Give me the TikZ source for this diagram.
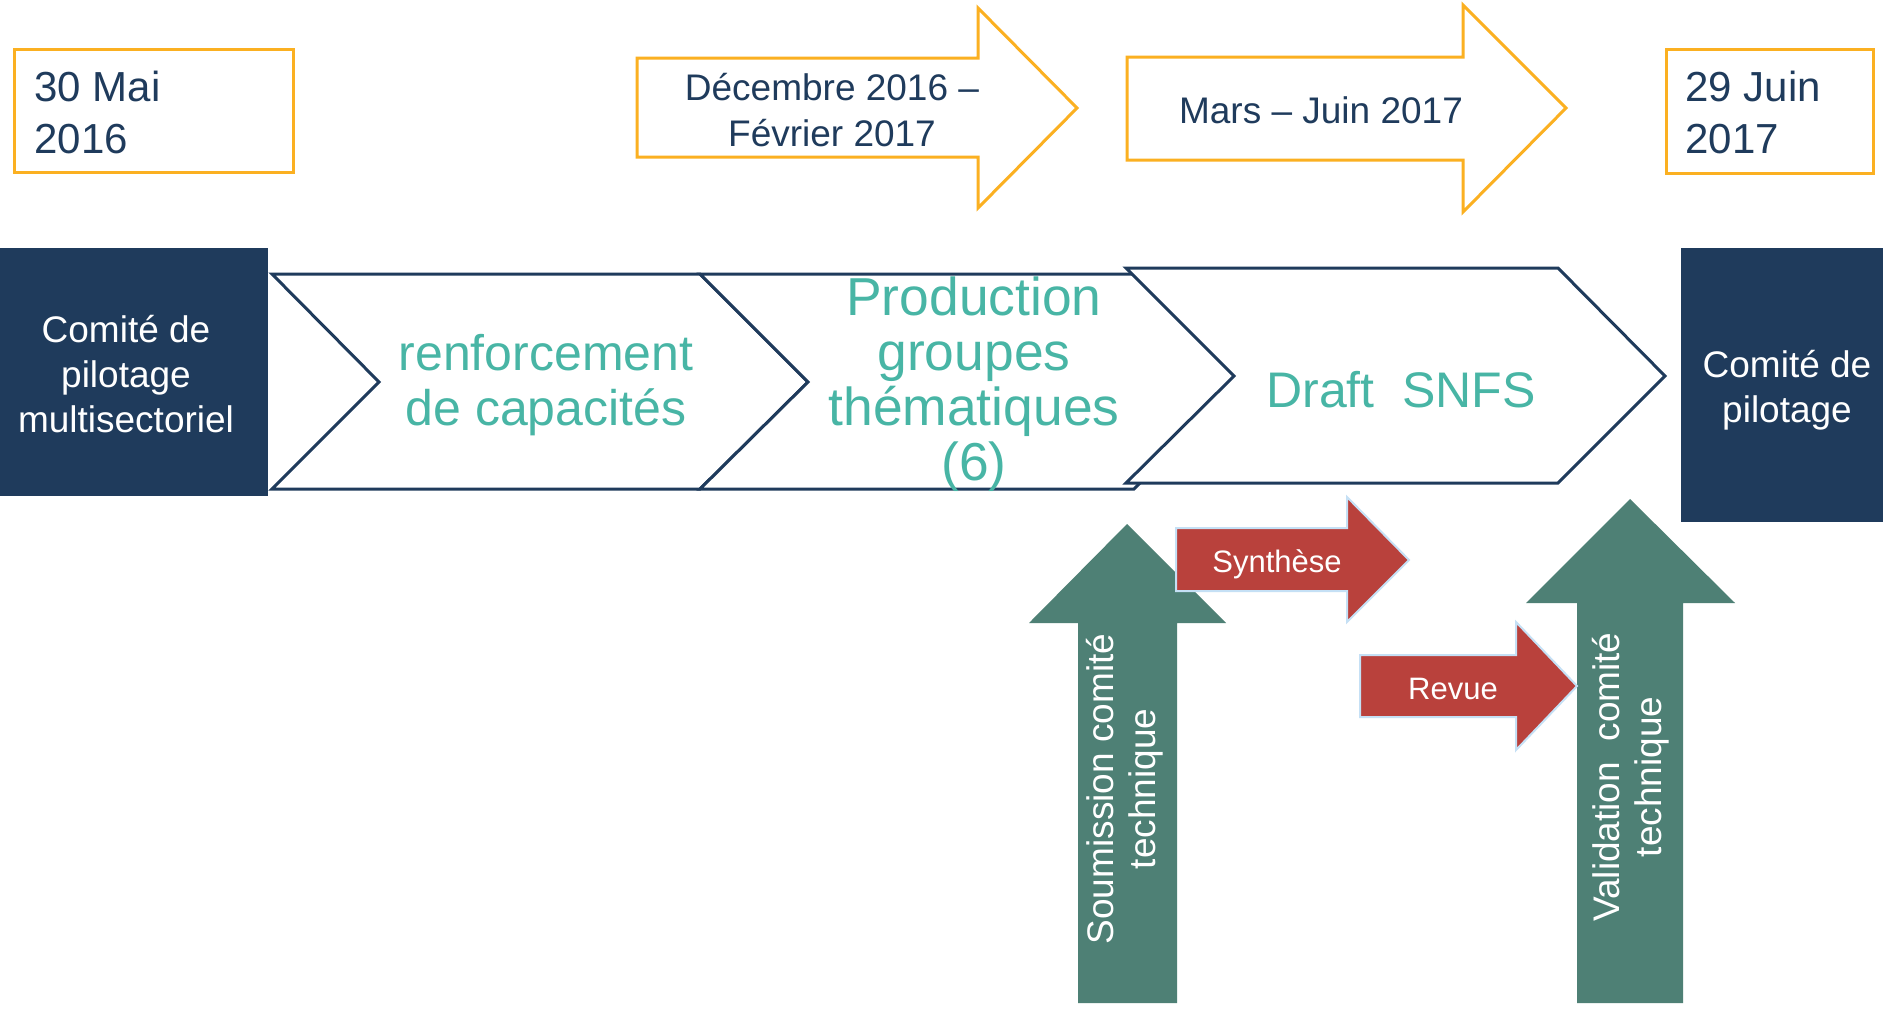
\documentclass[tikz,border=0pt]{standalone}
\usepackage{fontspec}
\setmainfont{Liberation Sans}
\definecolor{orng}{RGB}{251,176,33}
\definecolor{navy}{RGB}{31,59,92}
\definecolor{teal}{RGB}{72,181,165}
\definecolor{grn}{RGB}{78,128,117}
\definecolor{rouge}{RGB}{185,65,60}
\definecolor{ltblue}{RGB}{197,224,245}
\newcommand{\fs}[2]{\fontsize{#1}{#2}\selectfont}
\begin{document}
\begin{tikzpicture}[x=0.5pt,y=-0.5pt,
  orangeshape/.style={draw=orng, line width=1.5pt, fill=white},
  navybox/.style={fill=navy, draw=navy, line width=1pt},
  chevronshape/.style={draw=navy, line width=1.5pt, fill=white, line join=miter},
  greenarrow/.style={fill=grn},
  redarrow/.style={fill=rouge, draw=ltblue, line width=1pt},
  datetxt/.style={text=navy, font=\fs{21pt}{26pt}, align=left, anchor=west, inner sep=0pt},
  periodtxt/.style={text=navy, font=\fs{18.5pt}{23pt}, align=center, inner sep=0pt},
  comitetxt/.style={text=white, font=\fs{18.5pt}{22.5pt}, align=center, inner sep=0pt},
  chevtxt/.style={text=teal, font=\fs{25pt}{27.5pt}, align=center, inner sep=0pt},
  verttxt/.style={text=white, font=\fs{18.5pt}{21pt}, align=center, inner sep=0pt, rotate=90},
  redtxt/.style={text=white, font=\fs{15.5pt}{18pt}, inner sep=0pt}
]
\useasboundingbox (0,0) rectangle (1883,1008);
\fill[white] (0,0) rectangle (1883,1008);

% date boxes
\draw[orangeshape] (14,49) rectangle (293,172);
\node[datetxt] (d1) at (34,112) {30 Mai\\2016};
\draw[orangeshape] (1666,49) rectangle (1873,173);
\node[datetxt] (d2) at (1685,112) {29 Juin\\2017};

% period arrows
\draw[orangeshape] (637,58) -- (978,58) -- (978,8) -- (1077,108) -- (978,208) -- (978,157) -- (637,157) -- cycle;
\node[periodtxt] (p1) at (832,110) {D\'ecembre 2016 –\\F\'evrier 2017};
\draw[orangeshape] (1127,57) -- (1463,57) -- (1463,5) -- (1566,108) -- (1463,212) -- (1463,160) -- (1127,160) -- cycle;
\node[periodtxt] (p2) at (1321,110) {Mars – Juin 2017};

% steering committee boxes
\draw[navybox] (0,249) rectangle (267,495);
\node[comitetxt] (c1) at (126,374) {Comit\'e de\\pilotage\\multisectoriel};
\draw[navybox] (1682,249) rectangle (1883,521);
\node[comitetxt] (c2) at (1787,390) {Comit\'e de\\pilotage};

% chevrons
\draw[chevronshape] (272,274) -- (700,274) -- (808,382) -- (700,489) -- (272,489) -- (379,382) -- cycle;
\draw[chevronshape] (700,274) -- (1134,274) -- (1242,382) -- (1134,489) -- (700,489) -- (808,382) -- cycle;
\draw[chevronshape] (1126,268) -- (1558,268) -- (1665,376) -- (1558,483) -- (1126,483) -- (1234,376) -- cycle;
\node[chevtxt] (s1) at (546,385) {renforcement\\de capacit\'es};
\node[chevtxt, font=\fs{26.7pt}{27.5pt}] (s2) at (974,384) {Production\\groupes\\th\'ematiques\\(6)};
\node[chevtxt] (s3) at (1401,390) {Draft\ \ SNFS};

% green arrows
\fill[greenarrow] (1078,1003) -- (1078,623) -- (1029,623) -- (1127,524) -- (1226,623) -- (1177,623) -- (1177,1003) -- cycle;
\node[verttxt] (v1) at (1125,789) {Soumission comit\'e\\technique};
\fill[greenarrow] (1577,1003) -- (1577,603) -- (1526,603) -- (1630,499) -- (1735,603) -- (1683,603) -- (1683,1003) -- cycle;
\node[verttxt] (v2) at (1631,777) {Validation\ \ comit\'e\\technique};

% red arrows
\draw[redarrow] (1176,528) -- (1347,528) -- (1347,497) -- (1409,560) -- (1347,622) -- (1347,591) -- (1176,591) -- cycle;
\node[redtxt] (r1) at (1277,564) {Synth\`ese};
\draw[redarrow] (1360,655) -- (1516,655) -- (1516,622) -- (1577,686) -- (1516,750) -- (1516,717) -- (1360,717) -- cycle;
\node[redtxt] (r2) at (1453,689) {Revue};
\end{tikzpicture}
\end{document}
